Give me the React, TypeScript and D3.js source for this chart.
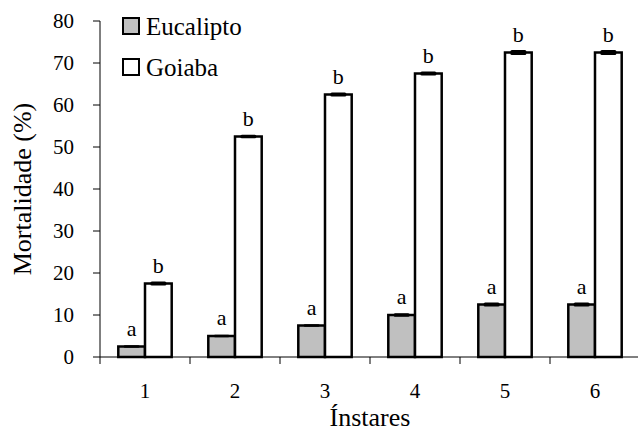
import React, { useEffect, useRef } from 'react';
import * as d3 from 'd3';

const instares = ['1', '2', '3', '4', '5', '6'];
const series = ['Eucalipto', 'Goiaba'];
const eucalipto = [2.5, 5, 7.5, 10, 12.5, 12.5];
const goiaba = [17.5, 52.5, 62.5, 67.5, 72.5, 72.5];
const erroEucalipto = [0.3, 0.3, 0.3, 0.4, 0.5, 0.5];
const erroGoiaba = [0.5, 0.4, 0.5, 0.5, 0.6, 0.6];
const letrasEucalipto = ['a', 'a', 'a', 'a', 'a', 'a'];
const letrasGoiaba = ['b', 'b', 'b', 'b', 'b', 'b'];
const yTicks = [0, 10, 20, 30, 40, 50, 60, 70, 80];
const cores = ['#c0c0c0', '#ffffff'];

const FONT = 'Liberation Serif, Times New Roman, serif';

const App = () => {
  const ref = useRef<SVGSVGElement>(null);

  useEffect(() => {
    if (!ref.current) return;
    const width = 638;
    const height = 431;
    const margin = { top: 21, right: -2, bottom: 74, left: 100 };

    const svg = d3.select(ref.current);
    svg.selectAll('*').remove();

    const x0 = d3.scaleBand().domain(instares).range([margin.left, width - margin.right]);
    const x1 = d3.scaleBand().domain(series).range([0, 53.4]);
    const y = d3.scaleLinear().domain([0, 80]).range([height - margin.bottom, margin.top]);
    const offset = (x0.bandwidth() - 53.4) / 2;

    const data = instares.map((k, i) => ({
      k,
      vals: [
        { s: series[0], v: eucalipto[i], e: erroEucalipto[i], l: letrasEucalipto[i], c: cores[0] },
        { s: series[1], v: goiaba[i], e: erroGoiaba[i], l: letrasGoiaba[i], c: cores[1] },
      ],
    }));

    const g = svg.append('g').attr('font-family', FONT);
    const grp = g.selectAll('g.grp').data(data).enter().append('g')
      .attr('transform', d => `translate(${(x0(d.k) as number) + offset},0)`);

    grp.selectAll('rect.bar').data(d => d.vals).enter().append('rect')
      .attr('x', d => x1(d.s) as number)
      .attr('y', d => y(d.v))
      .attr('width', x1.bandwidth())
      .attr('height', d => y(0) - y(d.v))
      .attr('fill', d => d.c)
      .attr('stroke', '#000')
      .attr('stroke-width', 2.5);

    // barras de erro
    grp.selectAll('rect.err').data(d => d.vals).enter().append('rect')
      .attr('x', d => (x1(d.s) as number) + x1.bandwidth() / 2 - 8)
      .attr('y', d => y(d.v + d.e))
      .attr('width', 16)
      .attr('height', d => y(d.v - d.e) - y(d.v + d.e))
      .attr('rx', 1.5)
      .attr('fill', '#000');

    grp.selectAll('text.letra').data(d => d.vals).enter().append('text')
      .attr('x', d => (x1(d.s) as number) + x1.bandwidth() / 2)
      .attr('y', d => y(d.v) - 11)
      .attr('text-anchor', 'middle')
      .attr('font-size', 22)
      .text(d => d.l);

    // eixo y
    const yAxis = g.append('g');
    yAxis.append('line')
      .attr('x1', margin.left).attr('x2', margin.left)
      .attr('y1', y(80)).attr('y2', y(0))
      .attr('stroke', '#000').attr('stroke-width', 1);
    yAxis.selectAll('line.t').data(yTicks).enter().append('line')
      .attr('x1', margin.left - 7).attr('x2', margin.left)
      .attr('y1', d => y(d)).attr('y2', d => y(d))
      .attr('stroke', '#000').attr('stroke-width', 1);
    yAxis.selectAll('text').data(yTicks).enter().append('text')
      .attr('x', margin.left - 26)
      .attr('y', d => y(d) + 7)
      .attr('text-anchor', 'end')
      .attr('font-size', 21)
      .text(d => d);

    // eixo x
    const xAxis = g.append('g');
    xAxis.append('line')
      .attr('x1', margin.left).attr('x2', width)
      .attr('y1', y(0)).attr('y2', y(0))
      .attr('stroke', '#000').attr('stroke-width', 1);
    xAxis.selectAll('line.t').data(instares).enter().append('line')
      .attr('x1', d => x0(d) as number).attr('x2', d => x0(d) as number)
      .attr('y1', y(0)).attr('y2', y(0) + 7)
      .attr('stroke', '#000').attr('stroke-width', 1);
    xAxis.selectAll('text').data(instares).enter().append('text')
      .attr('x', d => (x0(d) as number) + x0.bandwidth() / 2)
      .attr('y', 398)
      .attr('text-anchor', 'middle')
      .attr('font-size', 21)
      .text(d => d);

    g.append('text')
      .attr('x', 370).attr('y', 426)
      .attr('text-anchor', 'middle')
      .attr('font-size', 26)
      .text('Ínstares');

    g.append('text')
      .attr('transform', `translate(31,${(y(0) + y(80)) / 2}) rotate(-90)`)
      .attr('text-anchor', 'middle')
      .attr('font-size', 26)
      .text('Mortalidade (%)');

    // legenda
    const leg = g.append('g');
    series.forEach((s, i) => {
      const ly = 18 + i * 41;
      leg.append('rect')
        .attr('x', 123).attr('y', ly)
        .attr('width', 16).attr('height', 16)
        .attr('fill', cores[i])
        .attr('stroke', '#000').attr('stroke-width', 2);
      leg.append('text')
        .attr('x', 146).attr('y', ly + 17)
        .attr('font-size', 25)
        .text(s);
    });
  }, []);

  return (
    <svg ref={ref} width={638} height={431}
      style={{ position: 'absolute', left: 0, top: 0, background: '#fff' }} />
  );
};

export default App;
